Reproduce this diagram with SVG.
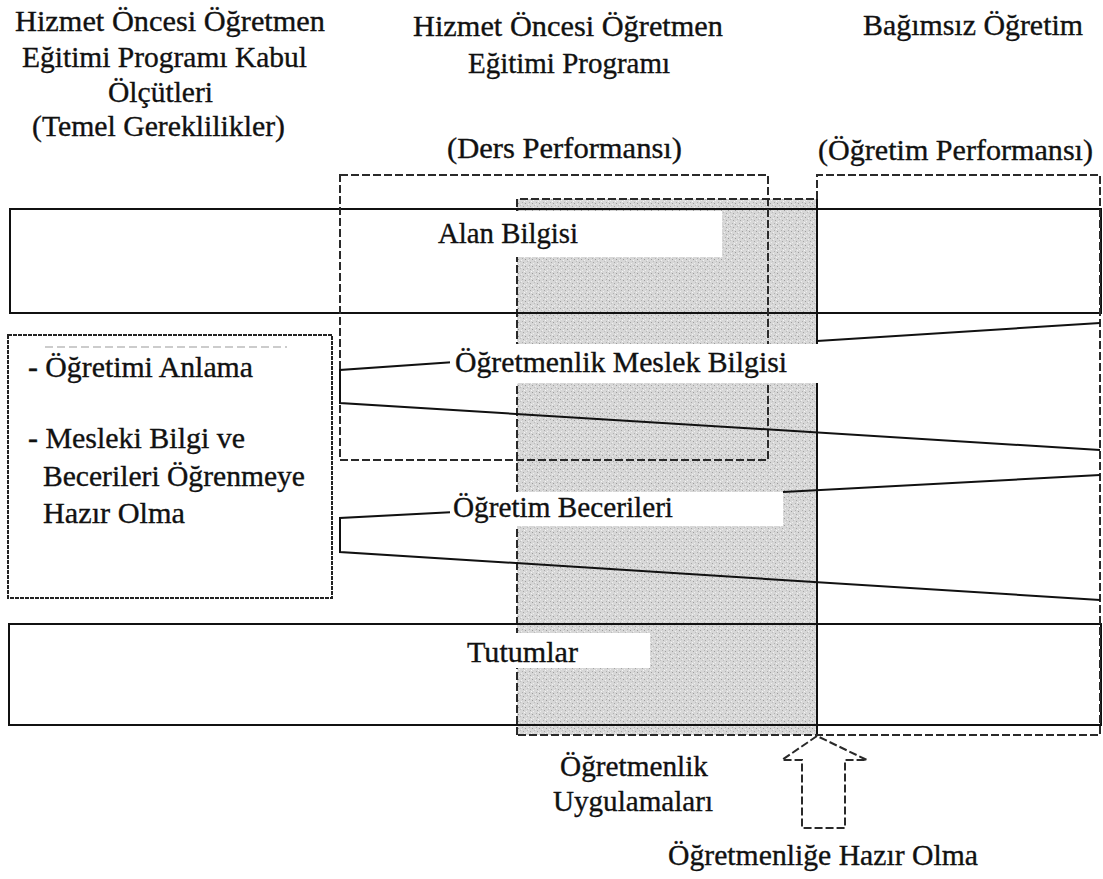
<svg xmlns="http://www.w3.org/2000/svg" width="1103" height="879" viewBox="0 0 1103 879">
<style>
text{font-family:"Liberation Serif","Times New Roman",serif;font-size:30px;fill:#111;stroke:#111;stroke-width:0.35px;}
.solid{fill:none;stroke:#111;stroke-width:2;}
.dash{fill:none;stroke:#2a2a2a;stroke-width:2;stroke-dasharray:8 3;}
.fine{fill:none;stroke:#222;stroke-width:2;stroke-dasharray:4 1;}
.band{fill:#fff;stroke:none;}
.line{fill:none;stroke:#111;stroke-width:2;stroke-linejoin:miter;}
</style>
<defs>
<pattern id="stipple" width="7" height="7" patternUnits="userSpaceOnUse">
<rect width="7" height="7" fill="#d7d7d7"/>
<rect x="0" y="0" width="1" height="1" fill="#9c9c9c"/>
<rect x="3" y="1" width="1" height="1" fill="#f0f0f0"/>
<rect x="5" y="3" width="1" height="1" fill="#a5a5a5"/>
<rect x="1" y="4" width="1" height="1" fill="#eeeeee"/>
<rect x="4" y="6" width="1" height="1" fill="#b0b0b0"/>
<rect x="6" y="5" width="1" height="1" fill="#f4f4f4"/>
<rect x="2" y="2" width="1" height="1" fill="#bdbdbd"/>
</pattern>
</defs>
<rect width="1103" height="879" fill="#fff"/>

<g id="ogretmenlik-uygulamalari">
<rect x="517" y="199" width="300" height="536" fill="url(#stipple)"/>
<path class="dash" d="M517 735 V199 H817"/>
<line class="solid" x1="817" y1="199" x2="817" y2="735"/>
</g>

<g id="alan-bilgisi-box"><rect class="solid" x="10" y="209" width="1091" height="104"/></g>
<g id="tutumlar-box"><rect class="solid" x="9" y="624" width="1092" height="101"/></g>

<g id="ders-performansi-box"><rect class="dash" x="340" y="175" width="428" height="285"/></g>
<g id="ogretim-performansi-box"><path class="dash" d="M817 199 V175 H1100 V735 H517"/></g>

<g id="temel-gereklilikler-box">
<rect class="fine" x="8" y="335" width="324" height="263"/>
<line x1="45" y1="347" x2="287" y2="347" stroke="#999" stroke-width="1" stroke-dasharray="8 4"/>
</g>

<g id="connectors">
<path class="line" d="M455 362 L340 370 V403 L1100 450"/>
<path class="line" d="M817 341 L1100 323"/>
<path class="line" d="M455 512 L340 518 V552 L1100 600"/>
<path class="line" d="M783 492 L1100 475"/>
</g>

<g id="bands">
<rect class="band" x="430" y="211" width="292" height="46"/>
<rect class="band" x="450" y="344" width="369" height="39"/>
<rect class="band" x="450" y="492" width="333" height="34"/>
<rect class="band" x="460" y="633" width="190" height="35"/>
</g>

<g id="ogretmenlige-hazir-olma-arrow">
<path class="dash" d="M817 736 L782 760 H802 V828 H845 V760 H867 Z"/>
</g>

<g id="header-kabul">
<text x="15" y="31" textLength="310" lengthAdjust="spacingAndGlyphs">Hizmet Öncesi Öğretmen</text>
<text x="22" y="67" textLength="285" lengthAdjust="spacingAndGlyphs">Eğitimi Programı Kabul</text>
<text x="108" y="102" textLength="105" lengthAdjust="spacingAndGlyphs">Ölçütleri</text>
<text x="32" y="136" textLength="253" lengthAdjust="spacingAndGlyphs">(Temel Gereklilikler)</text>
</g>
<g id="header-program">
<text x="413" y="36" textLength="310" lengthAdjust="spacingAndGlyphs">Hizmet Öncesi Öğretmen</text>
<text x="468" y="73" textLength="202" lengthAdjust="spacingAndGlyphs">Eğitimi Programı</text>
<text x="447" y="158" textLength="235" lengthAdjust="spacingAndGlyphs">(Ders Performansı)</text>
</g>
<g id="header-bagimsiz">
<text x="863" y="35" textLength="220" lengthAdjust="spacingAndGlyphs">Bağımsız Öğretim</text>
<text x="818" y="160" textLength="275" lengthAdjust="spacingAndGlyphs">(Öğretim Performansı)</text>
</g>

<g id="alan-bilgisi"><text x="438" y="243" textLength="140" lengthAdjust="spacingAndGlyphs">Alan Bilgisi</text></g>
<g id="meslek-bilgisi"><text x="455" y="372" textLength="332" lengthAdjust="spacingAndGlyphs">Öğretmenlik Meslek Bilgisi</text></g>
<g id="ogretim-becerileri"><text x="453" y="517" textLength="220" lengthAdjust="spacingAndGlyphs">Öğretim Becerileri</text></g>
<g id="tutumlar"><text x="467" y="662" textLength="111" lengthAdjust="spacingAndGlyphs">Tutumlar</text></g>

<g id="temel-gereklilikler">
<text x="28" y="377" textLength="225" lengthAdjust="spacingAndGlyphs">- Öğretimi Anlama</text>
<text x="28" y="448" textLength="217" lengthAdjust="spacingAndGlyphs">- Mesleki Bilgi ve</text>
<text x="43" y="486" textLength="262" lengthAdjust="spacingAndGlyphs">Becerileri Öğrenmeye</text>
<text x="43" y="523" textLength="142" lengthAdjust="spacingAndGlyphs">Hazır Olma</text>
</g>

<g id="ogretmenlik-uygulamalari-label">
<text x="560" y="776" textLength="148" lengthAdjust="spacingAndGlyphs">Öğretmenlik</text>
<text x="553" y="811" textLength="160" lengthAdjust="spacingAndGlyphs">Uygulamaları</text>
</g>
<g id="ogretmenlige-hazir-olma">
<text x="668" y="865" textLength="310" lengthAdjust="spacingAndGlyphs">Öğretmenliğe Hazır Olma</text>
</g>
</svg>
